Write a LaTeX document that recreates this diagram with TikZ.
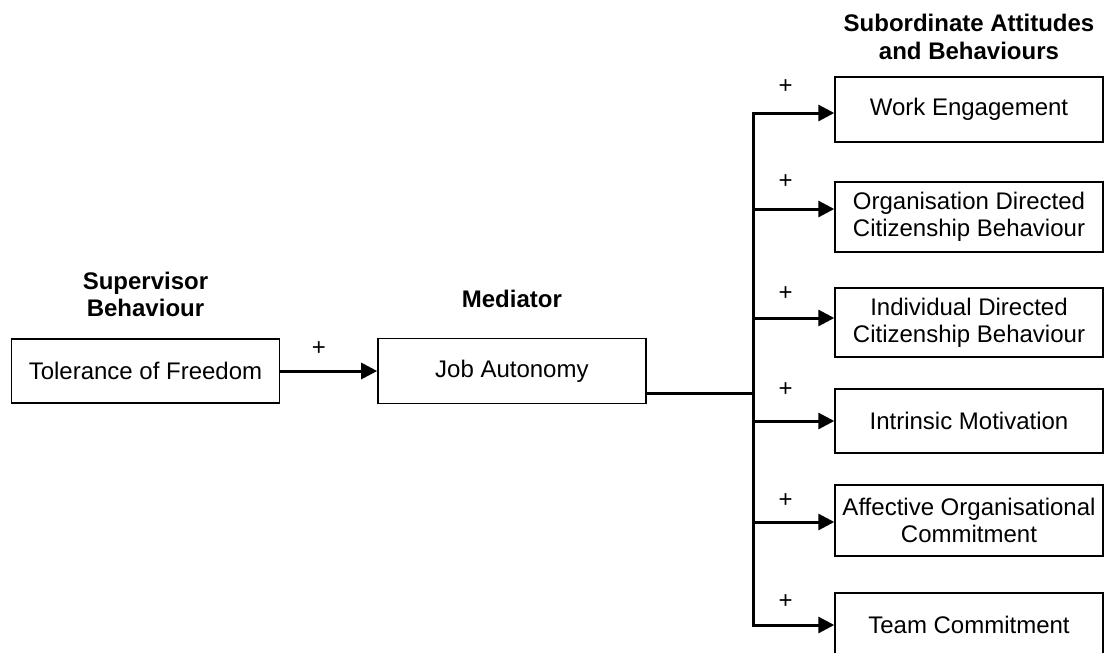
\documentclass[tikz,border=0pt]{standalone}
\usepackage{fontspec}
\setmainfont{Liberation Sans}
\usepackage{tikz}
\usetikzlibrary{arrows.meta, positioning}

\begin{document}
\begin{tikzpicture}[
  x=0.5pt, y=-0.5pt,
  font=\fontsize{12}{13.5}\selectfont,
  factor/.style={rectangle, draw, line width=0.7pt, minimum width=134pt, minimum height=32.5pt, align=center, inner sep=2pt},
  heading/.style={align=center, font=\fontsize{12}{13.5}\selectfont\bfseries},
  sign/.style={anchor=base, yshift=9.4pt},
  arrow/.style={-{Triangle[length=8pt, width=8pt]}, line width=1.5pt}
]
\useasboundingbox (0,0) rectangle (1104,653);

\node[factor, minimum height=32pt] (tol) at (145.5,371) {Tolerance of Freedom};
\node[factor, right=48.5pt of tol] (job) {Job Autonomy};

\node[heading, above=7.5pt of tol] (suphead) {Supervisor\\Behaviour};
\node[heading, above=11.5pt of job] (medhead) {Mediator};

\node[factor] (we) at (969,109.5) {Work Engagement};
\node[factor, minimum height=35pt] (ocb) at (969,217) {Organisation Directed\\Citizenship Behaviour};
\node[factor, minimum height=34.5pt] (icb) at (969,322.5) {Individual Directed\\Citizenship Behaviour};
\node[factor, minimum height=32pt] (im) at (969,421) {Intrinsic Motivation};
\node[factor, minimum height=35.5pt] (aoc) at (969,520.5) {Affective Organisational\\Commitment};
\node[factor, minimum height=32pt] (tc) at (969,625) {Team Commitment};

\node[heading, above=5pt of we] (subhead) {Subordinate Attitudes\\and Behaviours};

\coordinate (split) at (753,393);

\draw[arrow] (tol) -- (job) node[sign, pos=0.4, yshift=-1.5pt] {+};
\draw[line width=1.5pt] (job.east |- split) -- (split);
\draw[arrow] (split) |- ([yshift=-1.75pt]we.west) node[sign, pos=0.7, yshift=0.5pt] {+};
\draw[arrow] (split) |- ([yshift=4pt]ocb.west) node[sign, pos=0.7, yshift=1pt] {+};
\draw[arrow] (split) |- ([yshift=2.25pt]icb.west) node[sign, pos=0.7, yshift=-0.5pt] {+};
\draw[arrow] (split) |- (im.west) node[sign, pos=0.7, yshift=3pt] {+};
\draw[arrow] (split) |- ([yshift=-0.75pt]aoc.west) node[sign, pos=0.7, yshift=-2pt] {+};
\draw[arrow] (split) |- (tc.west) node[sign, pos=0.7, yshift=-1pt] {+};

\end{tikzpicture}
\end{document}
